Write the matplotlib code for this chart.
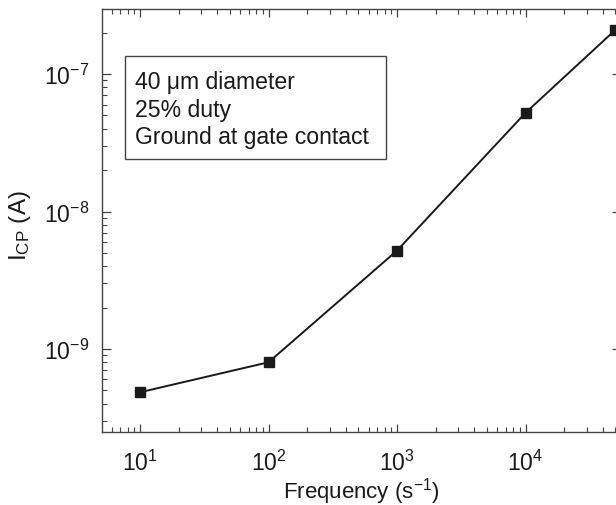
import matplotlib
matplotlib.use("Agg")
import matplotlib.pyplot as plt
from matplotlib.patches import Rectangle
from matplotlib.ticker import LogLocator, NullFormatter

plt.rcParams['font.family'] = ['Liberation Sans', 'DejaVu Sans']
plt.rcParams['mathtext.fontset'] = 'custom'
plt.rcParams['mathtext.rm'] = 'Liberation Sans'
plt.rcParams['mathtext.it'] = 'Liberation Sans'
plt.rcParams['mathtext.bf'] = 'Liberation Sans'
plt.rcParams['mathtext.default'] = 'regular'

freq = [10, 100, 1000, 10000, 50000]
icp = [4.84e-10, 8.0e-10, 5.2e-9, 5.23e-8, 2.1e-7]
box_lines = ["40 μm diameter", "25% duty", "Ground at gate contact"]

fig = plt.figure(figsize=(6.16, 5.06), dpi=100)
ax = fig.add_axes([0.1656, 0.1449, 0.842, 0.835])

ax.plot(freq, icp, color='#1a1a1a', lw=1.4, marker='s', ms=6.8, mfc='#1a1a1a', mec='#1a1a1a')
ax.set_xscale('log')
ax.set_yscale('log')
ax.set_xlim(5.06, 55000)
ax.set_ylim(2.5e-10, 2.97e-7)

ax.xaxis.set_major_locator(LogLocator(base=10, numticks=10))
ax.xaxis.set_minor_locator(LogLocator(base=10, subs=range(2, 10), numticks=20))
ax.yaxis.set_major_locator(LogLocator(base=10, numticks=10))
ax.yaxis.set_minor_locator(LogLocator(base=10, subs=range(2, 10), numticks=20))
ax.xaxis.set_minor_formatter(NullFormatter())
ax.yaxis.set_minor_formatter(NullFormatter())

ax.tick_params(which='both', direction='in', top=True, right=True, labelsize=16.5,
               color='#444444', labelcolor='#1a1a1a')
ax.tick_params(axis='x', which='major', length=6, width=0.9, pad=13)
ax.tick_params(axis='y', which='major', length=6.5, width=0.9, pad=9)
ax.tick_params(which='minor', length=3.3, width=0.8)
for s in ax.spines.values():
    s.set_color('#444444')
    s.set_linewidth(1)

ax.set_xlabel('Frequency (s$^{-1}$)', fontsize=16, labelpad=0, color='#1a1a1a')
ax.set_ylabel('I$_{CP}$ (A)', fontsize=17.5, color='#1a1a1a')
ax.yaxis.set_label_coords(-0.134, 0.49)

ax.add_patch(Rectangle((0.0443, 0.6454), 0.5032, 0.2436, transform=ax.transAxes,
                       fc='white', ec='#444444', lw=1, zorder=3))
baselines = [0.8128, 0.7479, 0.6833]
for line, yb in zip(box_lines, baselines):
    ax.text(0.0636, yb, line, transform=ax.transAxes, fontsize=16.6,
            va='baseline', ha='left', color='#1a1a1a', zorder=4)

fig.savefig('out.png', dpi=100)
